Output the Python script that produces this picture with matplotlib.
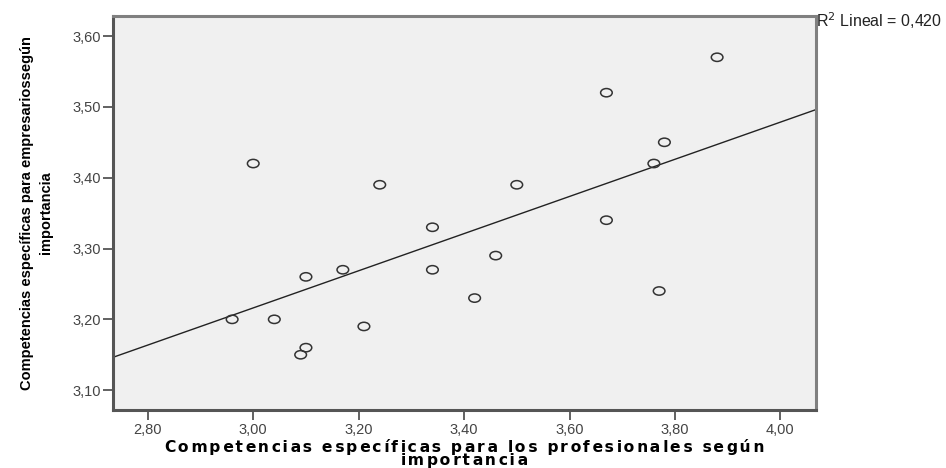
import matplotlib
matplotlib.use('Agg')
import matplotlib.pyplot as plt
from matplotlib import font_manager
import numpy as np
from matplotlib.path import Path
from matplotlib.transforms import Affine2D

# puntuaciones medias por competencia
profesionales = [2.96, 3.00, 3.04, 3.09, 3.10, 3.10, 3.17, 3.21, 3.24, 3.34,
                 3.34, 3.42, 3.46, 3.50, 3.67, 3.67, 3.76, 3.77, 3.78, 3.88]
empresarios = [3.20, 3.42, 3.20, 3.15, 3.16, 3.26, 3.27, 3.19, 3.39, 3.33,
               3.27, 3.23, 3.29, 3.39, 3.52, 3.34, 3.42, 3.24, 3.45, 3.57]
x_ticks = [2.80, 3.00, 3.20, 3.40, 3.60, 3.80, 4.00]
y_ticks = [3.10, 3.20, 3.30, 3.40, 3.50, 3.60]
r2_label = "R$^2$ Lineal = 0,420"
xlabel_lines = ["Competencias específicas para los profesionales según", "importancia"]
ylabel_lines = ["Competencias específicas para empresariossegún", "importancia"]

plt.rcParams['font.family'] = ['Liberation Sans', 'DejaVu Sans']

# fuente estrecha para el eje y si esta instalada
names = {f.name for f in font_manager.fontManager.ttflist}
if 'Liberation Sans Narrow' in names:
    yfont, ysize = 'Liberation Sans Narrow', 13
else:
    yfont, ysize = 'Liberation Sans', 10.5

W, H = 946, 468
fig = plt.figure(figsize=(W/100, H/100), dpi=100)
ax = fig.add_axes([113/W, 1-410/H, (815.7-113)/W, (410-15.5)/H])
ax.set_facecolor('#f0f0f0')

xlim = (2.734, 4.067)
ylim = (3.072, 3.629)
ax.set_xlim(*xlim)
ax.set_ylim(*ylim)

# marcador eliptico, algo mas ancho que alto
ell = Path.unit_circle().transformed(Affine2D().scale(1.4, 1.0))
ax.scatter(profesionales, empresarios, marker=ell, s=70, facecolors='none',
           edgecolors='#333333', linewidths=1.1, zorder=3)

# recta de ajuste lineal
b, a = np.polyfit(profesionales, empresarios, 1)
xs = np.array(xlim)
ax.plot(xs, a + b*xs, color='#222222', lw=1.0, zorder=2)

ax.set_xticks(x_ticks)
ax.set_yticks(y_ticks)
ax.set_xticklabels([('%.2f' % v).replace('.', ',') for v in x_ticks])
ax.set_yticklabels([('%.2f' % v).replace('.', ',') for v in y_ticks])
ax.tick_params(direction='out', length=7, width=1.3, color='#555555',
               labelsize=10.5, labelcolor='#444444', pad=2)

for side in ['left', 'bottom']:
    ax.spines[side].set_color('#555555')
    ax.spines[side].set_linewidth(2.2)
for side in ['top', 'right']:
    ax.spines[side].set_color('#808080')
    ax.spines[side].set_linewidth(2.2)


def spaced(s):
    """letras separadas con espacios finos (uno o dos alternando)"""
    out = ''
    for i, ch in enumerate(s):
        out += ch
        if i < len(s) - 1:
            out += '\u200a' * (2 if i % 2 else 1)
    return out


# titulo del eje x en dos lineas
xc = (113 + 815.7) / 2 / W
for text, base in zip(xlabel_lines, [452, 464.5]):
    fig.text(xc, 1-base/H, spaced(text), fontsize=11.2, fontweight='bold',
             family='DejaVu Sans', ha='center', va='baseline')

# titulo del eje y, girado
yc = 1 - (15.5 + 410) / 2 / H
for text, base in zip(ylabel_lines, [31, 50]):
    fig.text(base/W, yc, text, rotation=90, fontsize=ysize, fontweight='bold',
             family=yfont, ha='center', va='baseline', rotation_mode='anchor')

fig.text(816/W, 1-27/H, r2_label, fontsize=11.5, color='#222222',
         ha='left', va='baseline')

fig.savefig('out.png', dpi=100)
